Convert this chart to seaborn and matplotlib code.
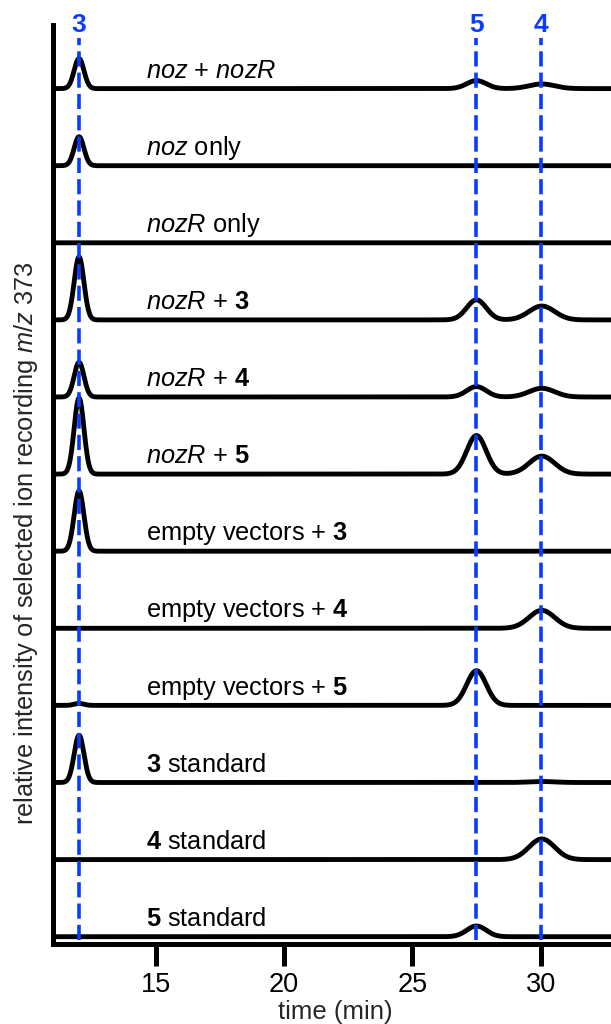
import numpy as np
import pandas as pd
import matplotlib
matplotlib.use("Agg")
import matplotlib.pyplot as plt
import seaborn as sns

# ---------------- data ----------------
trace_labels = [
    r"$\mathit{noz}$ + $\mathit{nozR}$",
    r"$\mathit{noz}$ only",
    r"$\mathit{nozR}$ only",
    r"$\mathit{nozR}$ + $\mathbf{3}$",
    r"$\mathit{nozR}$ + $\mathbf{4}$",
    r"$\mathit{nozR}$ + $\mathbf{5}$",
    r"empty vectors + $\mathbf{3}$",
    r"empty vectors + $\mathbf{4}$",
    r"empty vectors + $\mathbf{5}$",
    r"$\mathbf{3}$ standard",
    r"$\mathbf{4}$ standard",
    r"$\mathbf{5}$ standard",
]
compounds = ["3", "5", "4"]
retention_times = [12.0, 27.5, 30.05]      # min
peak_sigma = [0.19, 0.38, 0.5]             # min
# peak heights (fraction of trace spacing), one value per trace
height_3 = [0.39, 0.376, 0.0, 0.817, 0.45, 0.986, 0.78, 0.0, 0.026, 0.613, 0.0, 0.0]
height_5 = [0.104, 0.0, 0.0, 0.26, 0.135, 0.50, 0.0, 0.0, 0.45, 0.0, 0.0, 0.139]
height_4 = [0.06, 0.0, 0.0, 0.18, 0.113, 0.233, 0.0, 0.233, 0.0, 0.013, 0.268, 0.0]
xticks = [15, 20, 25, 30]

# ---------------- build long table ----------------
time = np.linspace(11.0, 33.0, 2200)
heights = [height_3, height_5, height_4]
n = len(trace_labels)
rows = []
for i in range(n):
    offset = n - 1 - i
    sig = np.full_like(time, float(offset))
    for rt, s, h in zip(retention_times, peak_sigma, heights):
        if h[i] > 0:
            sig = sig + h[i] * np.exp(-0.5 * ((time - rt) / s) ** 2)
    rows.append(pd.DataFrame({"time": time, "signal": sig, "trace": i}))
df = pd.concat(rows, ignore_index=True)

# ---------------- style ----------------
sns.set_theme(style="ticks")
plt.rcParams["font.family"] = ["Liberation Sans", "DejaVu Sans"]
plt.rcParams["mathtext.fontset"] = "custom"
plt.rcParams["mathtext.rm"] = "Liberation Sans"
plt.rcParams["mathtext.it"] = "Liberation Sans:italic"
plt.rcParams["mathtext.bf"] = "Liberation Sans:bold"

W, H = 611, 1024
fig = plt.figure(figsize=(W / 100, H / 100), dpi=100)
ax_left, ax_right, ax_top, ax_bot = 53.4, 611, 25, 944
ax = fig.add_axes([ax_left / W, 1 - ax_bot / H, (ax_right - ax_left) / W, (ax_bot - ax_top) / H])

sns.lineplot(data=df, x="time", y="signal", hue="trace", palette=["black"] * n,
             estimator=None, legend=False, linewidth=3.5, ax=ax)

px_per_min = 25.64
spacing_px = 77.1
ax.set_xlim(11.0, 11.0 + (ax_right - ax_left) / px_per_min)
ybot = -(ax_bot - 936.7) / spacing_px
ax.set_ylim(ybot, ybot + (ax_bot - ax_top) / spacing_px)

# trace labels
for i, lab in enumerate(trace_labels):
    offset = n - 1 - i
    ax.text(14.62, offset + 10.8 / spacing_px, lab, fontsize=18.3, ha="left",
            va="baseline", color="black")

# blue dashed guide lines and compound labels
blue = "#0a3cff"
for c, rt in zip(compounds, [12.0, 27.5, 30.0]):
    ax.axvline(rt, ymin=0.004, ymax=(ax_bot - 38) / (ax_bot - ax_top), color=blue,
               linewidth=2.6, dashes=(4.2, 1.7), zorder=5)
    ax.text(rt, 1 - 0.5 / (ax_bot - ax_top), c, transform=ax.get_xaxis_transform(),
            ha="center", va="center", fontsize=19, fontweight="bold", color=blue)

# axes styling
sns.despine(ax=ax, top=True, right=True)
for sp in ["left", "bottom"]:
    ax.spines[sp].set_linewidth(3.6)
    ax.spines[sp].set_color("black")
ax.set_yticks([])
ax.set_xticks(xticks)
ax.set_xticklabels([str(t) for t in xticks])
ax.tick_params(axis="x", length=16, width=3.6, pad=4, labelsize=19.5, colors="black")
ax.set_xlabel("")
ax.set_ylabel("")

fig.text(335 / W, 1 - 1012 / H, "time (min)", ha="center", va="center", fontsize=18.5)
fig.text(26 / W, 1 - 543 / H, r"relative intensity of selected ion recording $\mathit{m/z}$ 373",
         rotation=90, ha="center", va="center", fontsize=18.3)

fig.savefig("out.png", dpi=100)
